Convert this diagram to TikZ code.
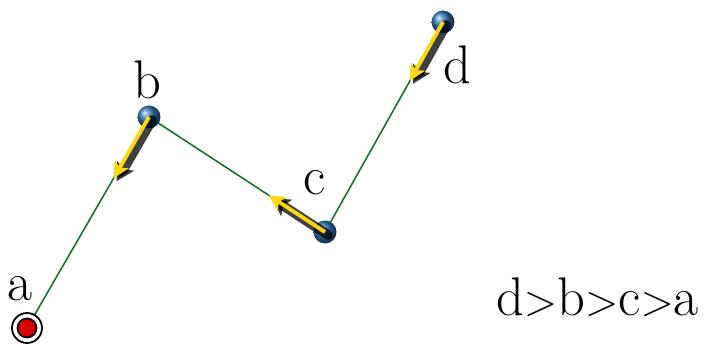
\documentclass[tikz,border=0pt]{standalone}
\usepackage{xcolor}
\usepackage{tikz}
\usetikzlibrary{arrows.meta, positioning, calc, shadings}

\definecolor{edgegreen}{RGB}{30,110,50}
\definecolor{ballblue}{RGB}{45,115,180}
\definecolor{pushyellow}{RGB}{250,215,20}

\begin{document}
\begin{tikzpicture}[
        vertex/.style={circle, inner sep=0pt, minimum size=0.46cm, shading=ball, ball color=ballblue},
        start/.style={circle, inner sep=0pt, minimum size=0.38cm, fill=red!85!black, draw=black, line width=1pt},
        edge/.style={edgegreen, line width=0.9pt},
        push/.style={pushyellow, line width=2.2pt, -{Stealth[length=9pt, width=9pt, inset=2pt]}},
        pushshadow/.style={black, opacity=0.75, line width=5.5pt, line cap=round, -{Stealth[length=10pt, width=11pt, inset=2pt]}},
        label/.style={font=\fontsize{31}{36}\selectfont}
    ]
    \useasboundingbox (0,0) rectangle (14.1,6.9);

    \coordinate (a) at (0.54,0.34);
    \coordinate (b) at (2.98,4.56);
    \coordinate (c) at (6.5,2.26);
    \coordinate (d) at (8.86,6.46);

    \draw [edge] (a) -- (b) -- (c) -- (d);

    % end point a with white ring
    \node (ringa) [circle, minimum size=0.6cm, inner sep=0pt, draw=black, line width=1pt, fill=white] at (a) {};
    \node (pa) [start] at (a) {};

    \node (pb) [vertex] at (b) {};
    \node (pc) [vertex] at (c) {};
    \node (pd) [vertex] at (d) {};

    \coordinate (tb) at ($(b)!0.29!(a)$);
    \coordinate (tc) at ($(c)!0.32!(b)$);
    \coordinate (td) at ($(d)!0.28!(c)$);

    \draw [pushshadow] ($(b)+(0.06,-0.06)$) -- ($(tb)+(0.06,-0.06)$);
    \draw [pushshadow] ($(c)+(0.06,-0.06)$) -- ($(tc)+(0.06,-0.06)$);
    \draw [pushshadow] ($(d)+(0.06,-0.06)$) -- ($(td)+(0.06,-0.06)$);

    \draw [push] (b) -- (tb);
    \draw [push] (c) -- (tc);
    \draw [push] (d) -- (td);

    \node (la) [label] at (0.4,1.12) {a};
    \node (lb) [label] at (2.94,5.3) {b};
    \node (lc) [label] at (6.3,3.24) {c};
    \node (ld) [label] at (9.14,5.6) {d};

    \node (order) [label] at (11.95,0.95) {d$>$b$>$c$>$a};

    \end{tikzpicture}
\end{document}
